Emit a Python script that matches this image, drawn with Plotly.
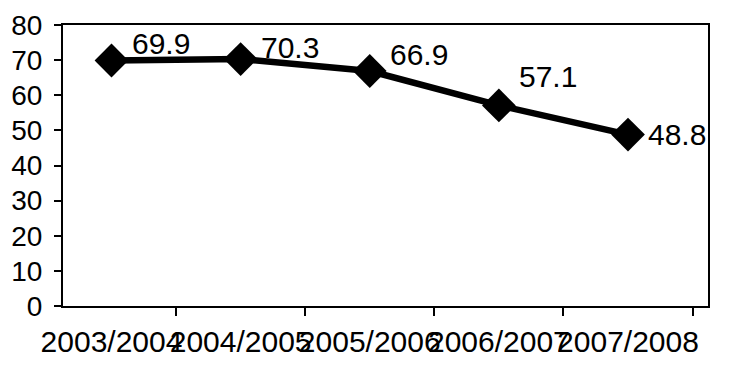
import plotly.graph_objects as go

categories = ["2003/2004", "2004/2005", "2005/2006", "2006/2007", "2007/2008"]
values = [69.9, 70.3, 66.9, 57.1, 48.8]
value_labels = ["69.9", "70.3", "66.9", "57.1", "48.8"]
label_dy = [17, 12, 17, 29, 0]
y_ticks = [0, 10, 20, 30, 40, 50, 60, 70, 80]

FONT = "Liberation Sans, Arial"

fig = go.Figure()
fig.add_trace(go.Scatter(
    x=categories, y=values, mode="lines+markers",
    line=dict(color="black", width=6.5),
    marker=dict(symbol="diamond", size=26, color="black"),
    cliponaxis=False,
    showlegend=False,
))

for c, v, t, dy in zip(categories, values, value_labels, label_dy):
    fig.add_annotation(
        x=c, y=v, text=t, showarrow=False, xanchor="left", yanchor="middle",
        xshift=18, yshift=dy,
        font=dict(family=FONT, size=30, color="black"),
    )

fig.update_layout(
    width=739, height=365,
    margin=dict(l=55, r=39, t=17, b=67),
    paper_bgcolor="white", plot_bgcolor="white",
    font=dict(family=FONT, color="black"),
)
fig.update_xaxes(
    type="category", showline=True, linecolor="black", linewidth=2, mirror=True,
    ticks="outside", tickson="boundaries", ticklen=8, tickwidth=2, tickcolor="black",
    tickangle=0, tickfont=dict(size=30, color="black"), showgrid=False,
    ticklabelstandoff=8, ticklabeloverflow="allow", automargin=False,
)
fig.update_yaxes(
    range=[0, 80], tickvals=y_ticks, showline=True, linecolor="black", linewidth=2,
    mirror=True, ticks="outside", ticklen=7, tickwidth=2, tickcolor="black",
    tickfont=dict(size=28, color="black"), showgrid=False, zeroline=False,
    ticklabelstandoff=6, ticklabeloverflow="allow", automargin=False,
)

fig.write_html("out.html")
